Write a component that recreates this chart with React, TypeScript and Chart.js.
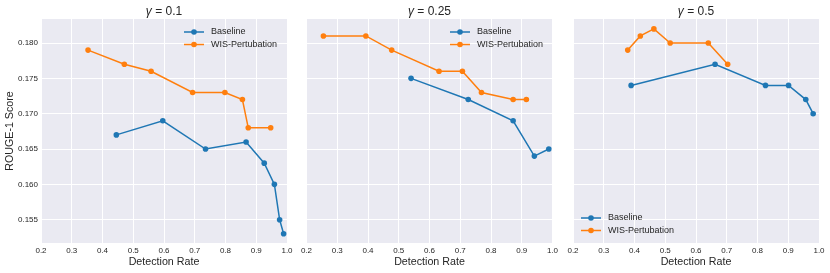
import React, { useEffect, useRef } from "react";
import { Chart, registerables } from "chart.js";

Chart.register(...registerables);

const gammaLabels = ["0.1", "0.25", "0.5"];
const seriesNames = ["Baseline", "WIS-Pertubation"];
const seriesColors = ["#1f77b4", "#ff7f0e"];

const baselineX1 = [0.445, 0.596, 0.735, 0.867, 0.926, 0.959, 0.976, 0.989];
const baselineY1 = [0.167, 0.169, 0.165, 0.166, 0.163, 0.16, 0.155, 0.153];
const wisX1 = [0.353, 0.471, 0.558, 0.693, 0.798, 0.855, 0.874, 0.947];
const wisY1 = [0.179, 0.177, 0.176, 0.173, 0.173, 0.172, 0.168, 0.168];

const baselineX2 = [0.54, 0.726, 0.872, 0.941, 0.988];
const baselineY2 = [0.175, 0.172, 0.169, 0.164, 0.165];
const wisX2 = [0.255, 0.393, 0.477, 0.631, 0.707, 0.769, 0.872, 0.915];
const wisY2 = [0.181, 0.181, 0.179, 0.176, 0.176, 0.173, 0.172, 0.172];

const baselineX3 = [0.389, 0.662, 0.826, 0.901, 0.957, 0.981];
const baselineY3 = [0.174, 0.177, 0.174, 0.174, 0.172, 0.17];
const wisX3 = [0.378, 0.419, 0.463, 0.516, 0.64, 0.703];
const wisY3 = [0.179, 0.181, 0.182, 0.18, 0.18, 0.177];

const xTicks = [0.2, 0.3, 0.4, 0.5, 0.6, 0.7, 0.8, 0.9, 1.0];
const yTicks = [0.155, 0.16, 0.165, 0.17, 0.175, 0.18];

const xLabel = "Detection Rate";
const yLabel = "ROUGE-1 Score";

const X_MIN = 0.2;
const X_MAX = 1.0;
const Y_MIN = 0.1517;
const Y_MAX = 0.1834;

const FONT = "'Liberation Sans', Arial, Helvetica, sans-serif";
const TEXT = "#262626";

const zip = (xs: number[], ys: number[]) => xs.map((x, i) => ({ x, y: ys[i] }));

const panelData = [
  [zip(baselineX1, baselineY1), zip(wisX1, wisY1)],
  [zip(baselineX2, baselineY2), zip(wisX2, wisY2)],
  [zip(baselineX3, baselineY3), zip(wisX3, wisY3)],
];

type Layout = {
  left: number;
  width: number;
  padLeft: number;
  padRight: number;
  yWidth: number;
  showY: boolean;
  legendX: number;
  legendY: number;
};

const layouts: Layout[] = [
  { left: 0, width: 300, padLeft: 0, padRight: 13, yWidth: 41, showY: true, legendX: 143, legendY: 13 },
  { left: 290, width: 275, padLeft: 16.5, padRight: 12.5, yWidth: 0, showY: false, legendX: 143.5, legendY: 13 },
  { left: 560, width: 270, padLeft: 13, padRight: 11, yWidth: 0, showY: false, legendX: 8, legendY: 199 },
];

const bgPlugin = {
  id: "bgPlugin",
  beforeDraw(chart: any) {
    const { ctx, chartArea } = chart;
    ctx.save();
    ctx.fillStyle = "#EAEAF2";
    ctx.fillRect(chartArea.left, chartArea.top, chartArea.right - chartArea.left, chartArea.bottom - chartArea.top);
    ctx.restore();
  },
};

const decorPlugin = {
  id: "decorPlugin",
  afterDraw(chart: any, _args: any, opts: any) {
    const { ctx, chartArea } = chart;
    ctx.save();
    // title with italic gamma
    const cx = (chartArea.left + chartArea.right) / 2;
    const ty = 11.5;
    ctx.fillStyle = TEXT;
    ctx.textBaseline = "middle";
    const g = "\u03b3";
    const rest = " = " + opts.gamma;
    ctx.font = `italic 12px ${FONT}`;
    const gw = ctx.measureText(g).width;
    ctx.font = `12px ${FONT}`;
    const rw = ctx.measureText(rest).width;
    const sx = cx - (gw + rw) / 2;
    ctx.textAlign = "left";
    ctx.font = `italic 12px ${FONT}`;
    ctx.fillText(g, sx, ty);
    ctx.font = `12px ${FONT}`;
    ctx.fillText(rest, sx + gw, ty);

    // legend
    const lx = chartArea.left + opts.legendX;
    const ly = chartArea.top + opts.legendY;
    ctx.font = `9px ${FONT}`;
    seriesNames.forEach((name, i) => {
      const y = ly + i * 12.5;
      ctx.strokeStyle = seriesColors[i];
      ctx.lineWidth = 1.5;
      ctx.beginPath();
      ctx.moveTo(lx, y);
      ctx.lineTo(lx + 20, y);
      ctx.stroke();
      ctx.fillStyle = seriesColors[i];
      ctx.beginPath();
      ctx.arc(lx + 10, y, 2.8, 0, Math.PI * 2);
      ctx.fill();
      ctx.fillStyle = TEXT;
      ctx.textAlign = "left";
      ctx.textBaseline = "middle";
      ctx.fillText(name, lx + 27, y);
    });
    ctx.restore();
  },
};

function Panel({ idx }: { idx: number }) {
  const ref = useRef<HTMLCanvasElement | null>(null);
  const L = layouts[idx];
  useEffect(() => {
    if (!ref.current) return;
    const chart = new Chart(ref.current, {
      type: "line",
      data: {
        datasets: panelData[idx].map((pts, i) => ({
          label: seriesNames[i],
          data: pts,
          borderColor: seriesColors[i],
          backgroundColor: seriesColors[i],
          borderWidth: 1.5,
          pointRadius: 2.8,
          pointBorderWidth: 0,
          pointHoverRadius: 2.8,
          tension: 0,
          fill: false,
        })),
      },
      options: {
        animation: false,
        responsive: false,
        devicePixelRatio: 1,
        layout: { padding: { top: 19, left: L.padLeft, right: L.padRight, bottom: 0 } },
        plugins: {
          legend: { display: false },
          tooltip: { enabled: false },
          decorPlugin: { gamma: gammaLabels[idx], legendX: L.legendX, legendY: L.legendY },
        } as any,
        scales: {
          x: {
            type: "linear",
            min: X_MIN,
            max: X_MAX,
            afterBuildTicks: (s: any) => {
              s.ticks = xTicks.map((v) => ({ value: v }));
            },
            afterFit: (s: any) => {
              s.height = 30;
            },
            border: { display: false },
            grid: { color: "#ffffff", lineWidth: 1, drawTicks: false },
            ticks: {
              color: TEXT,
              font: { size: 8, family: FONT },
              padding: 3,
              maxRotation: 0,
              autoSkip: false,
              callback: (v: any) => Number(v).toFixed(1),
            },
            title: {
              display: true,
              text: xLabel,
              color: TEXT,
              font: { size: 10.7, family: FONT },
              padding: { top: 0, bottom: 4.5 },
            },
          },
          y: {
            type: "linear",
            min: Y_MIN,
            max: Y_MAX,
            afterBuildTicks: (s: any) => {
              s.ticks = yTicks.map((v) => ({ value: v }));
            },
            afterFit: (s: any) => {
              s.width = L.yWidth;
            },
            border: { display: false },
            grid: { color: "#ffffff", lineWidth: 1, drawTicks: false },
            ticks: {
              display: L.showY,
              color: TEXT,
              font: { size: 8, family: FONT },
              padding: 3,
              autoSkip: false,
              callback: (v: any) => Number(v).toFixed(3),
            },
            title: {
              display: L.showY,
              text: yLabel,
              color: TEXT,
              font: { size: 10.7, family: FONT },
              padding: { top: 3.6, bottom: 0 },
            },
          },
        },
      } as any,
      plugins: [bgPlugin, decorPlugin],
    });
    return () => chart.destroy();
  }, [idx]);
  return (
    <canvas
      ref={ref}
      width={L.width}
      height={273}
      style={{ position: "absolute", left: L.left, top: 0, width: L.width, height: 273 }}
    />
  );
}

export default function App() {
  return (
    <div style={{ position: "absolute", left: 0, top: 0, width: 830, height: 273, background: "#ffffff" }}>
      <Panel idx={0} />
      <Panel idx={1} />
      <Panel idx={2} />
    </div>
  );
}
